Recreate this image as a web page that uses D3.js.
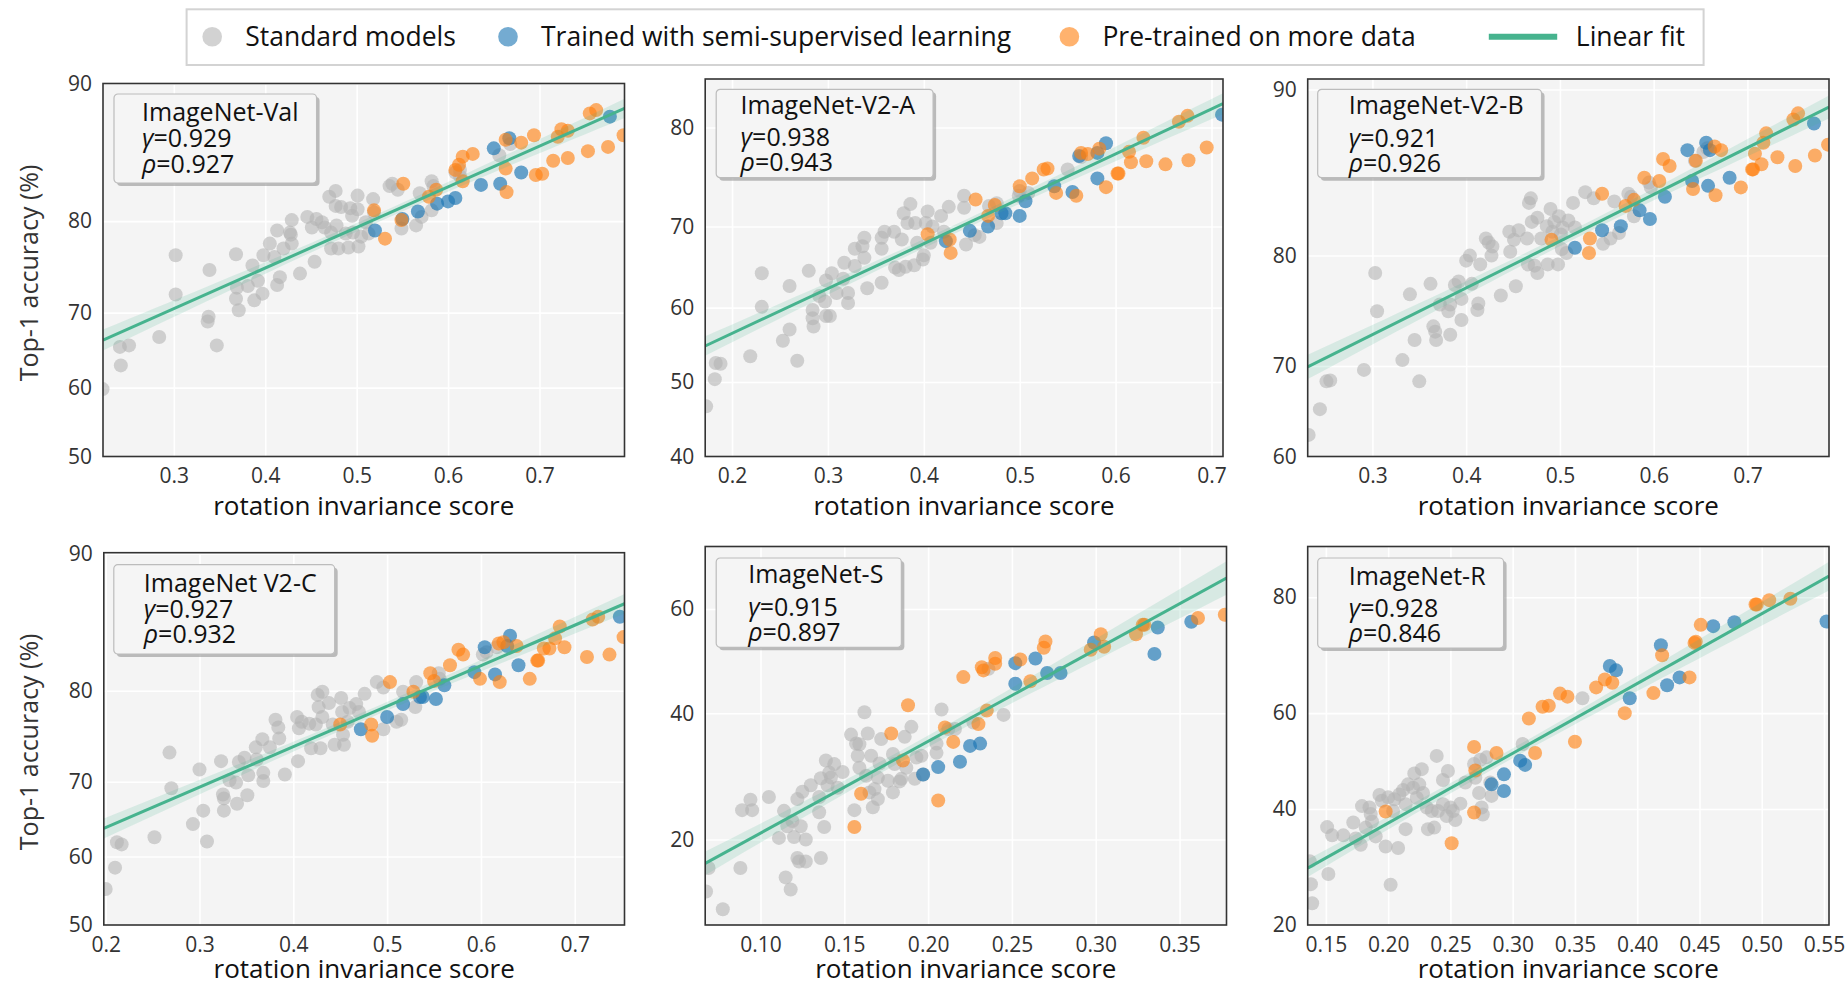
<!DOCTYPE html>
<html>
<head>
<meta charset="utf-8">
<script src="https://cdn.jsdelivr.net/npm/d3@7"></script>
<style>
  body { margin: 0; background: #fff; }
  svg { display: block; font-family: "Open Sans", sans-serif; }
</style>
</head>
<body>
<script>
// ---- data: [rotation invariance score, top-1 accuracy %] ----
const valStd = [[0.222,59.8],[0.241,65.6],[0.251,65.8],[0.242,63.1],[0.284,66.9],[0.302,76.6],[0.302,72.2],[0.339,75.0],[0.338,69.5],[0.337,68.9],[0.347,65.8],[0.368,76.7],[0.369,73.0],[0.368,71.7],[0.371,70.3],[0.381,73.2],[0.388,71.5],[0.386,75.5],[0.392,73.8],[0.397,72.3],[0.398,76.6],[0.405,77.8],[0.410,76.4],[0.413,79.1],[0.416,74.2],[0.413,73.3],[0.420,77.3],[0.427,78.9],[0.429,80.1],[0.429,77.8],[0.428,78.7],[0.438,74.6],[0.446,80.4],[0.454,75.9],[0.451,79.4],[0.456,80.2],[0.462,79.9],[0.465,79.4],[0.470,82.2],[0.472,78.9],[0.472,77.3],[0.477,82.7],[0.477,81.4],[0.478,79.6],[0.480,77.3],[0.483,81.3],[0.488,78.8],[0.491,77.4],[0.493,81.2],[0.495,80.5],[0.496,78.9],[0.501,82.3],[0.501,81.1],[0.502,77.5],[0.505,78.5],[0.510,79.9],[0.513,78.8],[0.518,82.0],[0.519,80.8],[0.536,83.1],[0.539,83.3],[0.545,82.8],[0.549,79.3],[0.565,79.6],[0.569,82.5],[0.571,80.4],[0.582,83.5],[0.584,83.1],[0.582,81.0],[0.608,84.2],[0.613,83.9],[0.613,84.4],[0.656,85.5],[0.668,86.3]];
const valSemi = [[0.520,79.1],[0.550,80.2],[0.567,80.9],[0.588,81.6],[0.600,81.8],[0.608,82.1],[0.636,83.2],[0.657,83.3],[0.680,84.2],[0.650,86.0],[0.667,86.7],[0.777,88.1]];
const valMore = [[0.519,81.0],[0.531,78.3],[0.551,83.3],[0.549,80.1],[0.579,82.2],[0.587,82.8],[0.608,84.4],[0.612,84.8],[0.616,85.4],[0.627,85.6],[0.616,83.5],[0.663,84.5],[0.664,82.6],[0.663,86.6],[0.680,86.4],[0.694,86.9],[0.696,84.0],[0.703,84.1],[0.715,85.1],[0.720,86.8],[0.724,87.3],[0.731,87.2],[0.731,85.3],[0.753,85.8],[0.755,88.3],[0.762,88.5],[0.775,86.1],[0.792,86.9]];
const valFit = [[0.2225,66.5],[0.793,88.6]];

const v2aStd = [[0.173,46.7],[0.182,50.4],[0.183,52.6],[0.188,52.5],[0.219,53.5],[0.231,64.4],[0.231,60.1],[0.253,55.6],[0.260,62.8],[0.260,57.1],[0.268,52.9],[0.280,64.7],[0.284,59.7],[0.284,58.6],[0.285,57.5],[0.291,61.5],[0.297,60.8],[0.298,63.5],[0.298,58.9],[0.302,58.9],[0.304,64.4],[0.309,61.9],[0.316,63.7],[0.317,65.7],[0.321,61.9],[0.321,60.6],[0.328,65.3],[0.328,67.4],[0.336,67.7],[0.338,68.7],[0.338,66.3],[0.341,62.5],[0.356,63.2],[0.356,68.7],[0.356,67.4],[0.359,69.4],[0.369,69.4],[0.370,65.1],[0.374,64.8],[0.377,68.5],[0.379,71.5],[0.381,65.2],[0.383,70.4],[0.386,72.5],[0.390,65.4],[0.391,70.4],[0.393,68.1],[0.399,66.1],[0.400,66.6],[0.402,70.4],[0.404,71.7],[0.407,68.1],[0.409,70.0],[0.418,71.2],[0.421,69.4],[0.426,72.2],[0.442,73.4],[0.442,72.1],[0.444,67.9],[0.453,69.0],[0.458,68.8],[0.468,72.3],[0.476,70.4],[0.476,72.6],[0.500,73.9],[0.499,73.4],[0.509,73.7],[0.550,76.1],[0.564,77.3]];
const v2aSemi = [[0.423,68.3],[0.448,69.5],[0.467,70.0],[0.481,71.5],[0.485,71.5],[0.500,71.2],[0.506,72.8],[0.536,74.4],[0.555,73.8],[0.581,75.2],[0.562,77.4],[0.581,77.7],[0.590,78.6],[0.711,81.1]];
const v2aMore = [[0.454,73.0],[0.427,68.5],[0.428,66.9],[0.467,71.2],[0.474,72.4],[0.500,74.4],[0.513,75.2],[0.525,76.1],[0.529,76.2],[0.538,73.7],[0.559,73.4],[0.564,77.7],[0.571,77.6],[0.583,78.1],[0.590,74.3],[0.602,75.7],[0.603,75.7],[0.614,77.8],[0.616,76.8],[0.629,79.1],[0.632,76.9],[0.652,76.6],[0.666,80.5],[0.675,81.0],[0.676,77.0],[0.695,78.2],[0.404,69.1]];
const v2aFit = [[0.172,54.9],[0.712,82.0]];

const v2bStd = [[0.232,62.5],[0.244,65.4],[0.251,68.4],[0.255,68.5],[0.291,69.6],[0.303,78.6],[0.305,75.3],[0.332,70.6],[0.340,76.8],[0.345,72.6],[0.350,68.4],[0.362,77.7],[0.365,73.9],[0.367,73.4],[0.368,72.6],[0.372,75.9],[0.381,75.3],[0.383,73.1],[0.383,75.9],[0.388,77.6],[0.392,77.9],[0.395,74.5],[0.395,76.4],[0.400,79.6],[0.404,80.0],[0.406,77.7],[0.412,75.4],[0.413,76.0],[0.415,79.3],[0.421,81.3],[0.424,81.0],[0.427,80.0],[0.428,80.7],[0.437,76.7],[0.446,81.8],[0.447,80.3],[0.451,81.2],[0.453,77.5],[0.456,81.9],[0.465,81.3],[0.466,79.3],[0.467,83.8],[0.469,84.1],[0.470,82.5],[0.473,79.2],[0.476,78.6],[0.476,82.8],[0.480,81.3],[0.486,82.2],[0.487,79.3],[0.490,83.4],[0.492,81.8],[0.494,82.5],[0.498,79.3],[0.499,82.9],[0.501,81.6],[0.502,80.5],[0.503,82.1],[0.507,80.2],[0.509,82.6],[0.514,83.8],[0.516,82.1],[0.527,84.5],[0.536,84.1],[0.546,80.9],[0.554,81.3],[0.558,83.9],[0.563,81.7],[0.573,84.4],[0.576,84.2],[0.579,82.9],[0.595,85.1],[0.597,84.8],[0.644,86.4],[0.653,86.9],[0.657,87.1]];
const v2bSemi = [[0.516,80.6],[0.545,81.9],[0.565,82.2],[0.585,83.3],[0.596,82.7],[0.612,84.2],[0.636,87.0],[0.641,85.2],[0.656,87.4],[0.660,87.0],[0.658,84.9],[0.681,85.4],[0.771,88.4]];
const v2bMore = [[0.491,81.2],[0.532,81.3],[0.531,80.2],[0.545,84.4],[0.570,83.6],[0.579,84.0],[0.590,85.4],[0.606,85.2],[0.610,86.5],[0.617,86.1],[0.642,84.7],[0.665,87.2],[0.672,87.0],[0.666,84.3],[0.693,84.8],[0.705,85.9],[0.706,85.9],[0.708,86.8],[0.715,86.2],[0.717,87.4],[0.720,87.9],[0.732,86.6],[0.749,88.6],[0.754,88.9],[0.751,86.1],[0.772,86.7],[0.786,87.3],[0.645,86.4]];
const v2bFit = [[0.231,69.9],[0.787,89.2]];

const v2cStd = [[0.200,55.3],[0.210,58.4],[0.212,62.0],[0.217,61.7],[0.252,62.7],[0.268,73.5],[0.270,69.2],[0.293,64.5],[0.300,71.5],[0.304,66.3],[0.308,62.1],[0.323,72.5],[0.325,68.4],[0.326,67.9],[0.326,66.3],[0.332,70.2],[0.339,69.9],[0.340,67.2],[0.342,72.4],[0.348,72.9],[0.351,68.3],[0.352,70.8],[0.360,74.1],[0.361,72.7],[0.367,75.0],[0.368,71.1],[0.368,70.1],[0.375,74.1],[0.381,77.1],[0.384,76.3],[0.385,75.1],[0.391,70.9],[0.404,77.4],[0.405,72.5],[0.406,76.2],[0.409,76.9],[0.417,76.7],[0.419,74.0],[0.424,76.6],[0.426,79.6],[0.427,78.4],[0.431,79.9],[0.429,74.0],[0.431,77.4],[0.438,78.8],[0.442,76.6],[0.444,74.4],[0.451,79.3],[0.452,77.9],[0.453,75.5],[0.454,74.4],[0.458,76.9],[0.460,78.3],[0.467,78.7],[0.470,77.9],[0.476,79.7],[0.489,80.8],[0.496,76.1],[0.496,80.3],[0.510,76.9],[0.515,77.1],[0.517,79.9],[0.530,78.4],[0.531,80.8],[0.555,81.6],[0.556,81.1],[0.602,83.2],[0.606,83.4],[0.617,83.8]];
const v2cSemi = [[0.472,76.1],[0.500,77.4],[0.517,78.7],[0.535,79.4],[0.538,79.4],[0.552,79.2],[0.561,80.5],[0.593,81.7],[0.615,81.5],[0.604,83.8],[0.628,83.9],[0.631,84.7],[0.640,82.3],[0.748,86.1]];
const v2cMore = [[0.450,76.6],[0.483,76.6],[0.484,75.4],[0.503,80.8],[0.528,79.9],[0.546,81.6],[0.550,80.9],[0.567,82.3],[0.576,83.6],[0.581,83.2],[0.599,81.1],[0.620,80.8],[0.619,84.1],[0.624,84.2],[0.638,83.9],[0.652,81.1],[0.660,82.7],[0.661,82.7],[0.667,83.7],[0.673,83.7],[0.679,84.5],[0.684,85.4],[0.689,83.8],[0.713,83.0],[0.719,85.9],[0.725,86.1],[0.737,83.2],[0.752,84.6]];
const v2cFit = [[0.198,63.9],[0.753,87.0]];

const sketchStd = [[0.0675,14.3],[0.069,16.7],[0.0775,12.7],[0.088,16.7],[0.089,23.9],[0.094,25.4],[0.095,23.9],[0.105,25.8],[0.111,20.2],[0.114,23.8],[0.115,15.7],[0.116,21.7],[0.118,14.5],[0.119,22.4],[0.120,20.3],[0.122,17.8],[0.122,25.5],[0.123,17.4],[0.124,21.7],[0.127,20.0],[0.125,26.6],[0.127,17.4],[0.130,27.6],[0.135,25.8],[0.135,23.6],[0.136,17.8],[0.136,28.7],[0.138,21.6],[0.139,31.6],[0.140,27.6],[0.141,29.6],[0.142,28.8],[0.144,31.0],[0.146,27.2],[0.149,29.7],[0.154,36.1],[0.156,23.9],[0.157,34.5],[0.158,32.4],[0.159,34.4],[0.159,30.4],[0.162,40.2],[0.163,29.1],[0.164,36.3],[0.165,26.5],[0.166,32.4],[0.167,24.3],[0.168,27.0],[0.170,28.8],[0.170,25.5],[0.171,31.1],[0.172,35.3],[0.176,28.3],[0.179,26.5],[0.179,32.7],[0.180,31.0],[0.183,28.2],[0.184,28.6],[0.186,35.7],[0.187,30.4],[0.190,37.5],[0.192,28.6],[0.193,32.1],[0.196,32.4],[0.205,34.5],[0.205,32.9],[0.208,40.7],[0.212,37.1],[0.216,37.1],[0.227,38.3],[0.236,48.5],[0.245,39.7],[0.197,29.3]];
const sketchSemi = [[0.197,29.3],[0.206,30.5],[0.219,31.4],[0.225,34.1],[0.231,34.5],[0.252,45.6],[0.252,49.6],[0.264,50.5],[0.271,47.7],[0.279,47.7],[0.299,53.6],[0.335,51.4],[0.337,56.5],[0.357,57.6]];
const sketchMore = [[0.156,21.6],[0.160,26.3],[0.178,36.3],[0.185,31.6],[0.188,41.5],[0.206,25.3],[0.210,37.4],[0.215,34.8],[0.221,46.9],[0.230,38.0],[0.232,48.8],[0.233,48.2],[0.235,40.5],[0.240,50.6],[0.240,49.5],[0.255,50.3],[0.261,46.1],[0.269,52.6],[0.270,53.8],[0.297,52.2],[0.303,55.2],[0.305,52.8],[0.324,55.2],[0.328,57.0],[0.329,57.0],[0.361,58.3],[0.377,58.9]];
const sketchFit = [[0.067,17.2],[0.378,65.6]];

const renditionStd = [[0.137,30.0],[0.138,26.1],[0.139,23.1],[0.151,36.4],[0.152,27.8],[0.155,34.8],[0.164,34.8],[0.172,37.3],[0.174,34.2],[0.178,33.0],[0.179,40.6],[0.182,36.3],[0.185,40.3],[0.186,39.0],[0.187,37.5],[0.190,34.6],[0.193,42.9],[0.195,41.7],[0.198,32.7],[0.200,42.4],[0.202,26.0],[0.204,39.6],[0.205,42.0],[0.208,32.4],[0.209,43.0],[0.212,43.9],[0.214,36.0],[0.214,41.0],[0.216,45.1],[0.220,44.4],[0.221,47.4],[0.223,42.3],[0.225,45.1],[0.227,48.3],[0.228,43.3],[0.231,40.3],[0.232,36.0],[0.235,39.6],[0.239,51.1],[0.237,36.3],[0.240,39.6],[0.244,46.0],[0.244,41.0],[0.247,38.6],[0.248,47.9],[0.250,40.3],[0.252,39.6],[0.254,37.8],[0.258,41.1],[0.262,45.5],[0.269,49.4],[0.270,46.5],[0.273,43.3],[0.274,50.3],[0.275,40.3],[0.276,38.9],[0.279,50.8],[0.282,45.5],[0.283,42.7],[0.308,53.6],[0.356,63.0]];
const renditionSemi = [[0.283,45.1],[0.293,47.2],[0.293,43.7],[0.306,50.1],[0.310,49.2],[0.378,69.1],[0.383,68.3],[0.394,63.0],[0.424,65.5],[0.434,67.0],[0.419,72.7],[0.461,75.8],[0.478,76.4],[0.552,76.5]];
const renditionMore = [[0.198,39.5],[0.251,33.3],[0.269,53.0],[0.270,48.0],[0.269,39.3],[0.287,51.7],[0.313,58.9],[0.318,51.7],[0.324,61.3],[0.329,61.5],[0.338,63.9],[0.344,63.3],[0.350,54.1],[0.367,65.1],[0.374,66.6],[0.380,66.0],[0.390,60.0],[0.413,64.0],[0.420,71.0],[0.442,67.0],[0.446,73.1],[0.447,73.3],[0.451,76.0],[0.495,79.0],[0.496,79.0],[0.506,79.6],[0.523,79.8]];
const renditionFit = [[0.1354,28.8],[0.554,82.7]];

const datasetNames = ["ImageNet-Val", "ImageNet-V2-A", "ImageNet-V2-B", "ImageNet V2-C", "ImageNet-S", "ImageNet-R"];
const gammas = ["0.929", "0.938", "0.921", "0.927", "0.915", "0.928"];
const rhos = ["0.927", "0.943", "0.926", "0.932", "0.897", "0.846"];
const xDomains = [[0.2225,0.793],[0.172,0.712],[0.231,0.787],[0.198,0.753],[0.067,0.378],[0.1354,0.554]];
const yDomains = [[50,90],[40,83.9],[60,90.45],[50,90.05],[11.4,70.9],[20,86.0]];
const xTickVals = [[0.3,0.4,0.5,0.6,0.7],[0.2,0.3,0.4,0.5,0.6,0.7],[0.3,0.4,0.5,0.6,0.7],[0.2,0.3,0.4,0.5,0.6,0.7],[0.10,0.15,0.20,0.25,0.30,0.35],[0.15,0.20,0.25,0.30,0.35,0.40,0.45,0.50,0.55]];
const yTickVals = [[50,60,70,80,90],[40,50,60,70,80],[60,70,80,90],[50,60,70,80,90],[20,40,60],[20,40,60,80]];
const xTickFormats = [".1f", ".1f", ".1f", ".1f", ".2f", ".2f"];
const legendLabels = ["Standard models", "Trained with semi-supervised learning", "Pre-trained on more data", "Linear fit"];

// ---- styling / layout ----
const W = 1847, H = 986;
const cGray = "#b4b4b4", cBlue = "#1f77b4", cOrange = "#ff7f0e", cFit = "#46b38e";
const frames = [
  {left: 103, right: 624.5, top: 83.5, bottom: 456.5, label: 58},
  {left: 705.2, right: 1223, top: 79, bottom: 456.5, label: 58},
  {left: 1307.7, right: 1829, top: 79, bottom: 456.5, label: 58},
  {left: 103.8, right: 624.5, top: 552.7, bottom: 925, label: 53},
  {left: 705.2, right: 1226.5, top: 546.5, bottom: 925, label: 53},
  {left: 1307.7, right: 1829, top: 546.5, bottom: 925, label: 53}
];
// annotation boxes: offsets from the panel's top-left corner, text baselines from the box top
const notes = [
  {dx: 11, dy: 10.5, tx: 39, lines: [27, 53, 78.5], h: 89},
  {dx: 11, dy: 10.3, tx: 35.4, lines: [24.5, 57, 82], h: 88.4},
  {dx: 10, dy: 10.3, tx: 41, lines: [24.5, 57.5, 82.5], h: 88.4},
  {dx: 10, dy: 12, tx: 40, lines: [27, 53, 78], h: 89.3},
  {dx: 11, dy: 11.5, tx: 43, lines: [24.5, 57.5, 82.5], h: 89.3},
  {dx: 10, dy: 11.5, tx: 41, lines: [27, 59, 84], h: 90}
];

const panels = [
  {std: valStd, semi: valSemi, more: valMore, fit: valFit},
  {std: v2aStd, semi: v2aSemi, more: v2aMore, fit: v2aFit},
  {std: v2bStd, semi: v2bSemi, more: v2bMore, fit: v2bFit},
  {std: v2cStd, semi: v2cSemi, more: v2cMore, fit: v2cFit},
  {std: sketchStd, semi: sketchSemi, more: sketchMore, fit: sketchFit},
  {std: renditionStd, semi: renditionSemi, more: renditionMore, fit: renditionFit}
];

const logit = p => Math.log(p / (100 - p));
const sigm = v => 100 / (1 + Math.exp(-v));

const svg = d3.select("body").append("svg")
  .attr("width", W)
  .attr("height", H);

panels.forEach((p, i) => {
  const f = frames[i];
  const x = d3.scaleLinear().domain(xDomains[i]).range([f.left, f.right]);
  // y axis is logit-scaled accuracy
  const yl = d3.scaleLinear().domain(yDomains[i].map(logit)).range([f.bottom, f.top]);
  const y = v => yl(logit(v));

  const g = svg.append("g");
  g.append("clipPath").attr("id", `clip${i}`)
    .append("rect")
      .attr("x", f.left).attr("y", f.top)
      .attr("width", f.right - f.left).attr("height", f.bottom - f.top);

  g.append("rect")
    .attr("x", f.left).attr("y", f.top)
    .attr("width", f.right - f.left).attr("height", f.bottom - f.top)
    .attr("fill", "#f4f4f4");

  // grid
  g.append("g")
    .attr("transform", `translate(0,${f.bottom})`)
    .call(d3.axisBottom(x).tickValues(xTickVals[i]).tickSize(-(f.bottom - f.top)).tickFormat(""))
    .call(s => {
      s.select(".domain").remove();
      s.selectAll("line").attr("stroke", "#fff").attr("stroke-width", 1.6);
    });
  g.append("g")
    .attr("transform", `translate(${f.left},0)`)
    .call(d3.axisLeft(yl).tickValues(yTickVals[i].map(logit)).tickSize(-(f.right - f.left)).tickFormat(""))
    .call(s => {
      s.select(".domain").remove();
      s.selectAll("line").attr("stroke", "#fff").attr("stroke-width", 1.6);
    });

  // tick labels
  g.append("g")
    .attr("transform", `translate(0,${f.bottom})`)
    .call(d3.axisBottom(x).tickValues(xTickVals[i]).tickSize(0).tickPadding(12).tickFormat(d3.format(xTickFormats[i])))
    .call(s => {
      s.select(".domain").remove();
      s.selectAll("text").attr("font-size", 21).attr("fill", "#333").attr("font-family", '"Open Sans", sans-serif');
    });
  g.append("g")
    .attr("transform", `translate(${f.left},0)`)
    .call(d3.axisLeft(yl).tickValues(yTickVals[i].map(logit)).tickSize(0).tickPadding(11).tickFormat(v => Math.round(sigm(v))))
    .call(s => {
      s.select(".domain").remove();
      s.selectAll("text").attr("font-size", 21).attr("fill", "#333").attr("font-family", '"Open Sans", sans-serif');
    });

  const plot = g.append("g").attr("clip-path", `url(#clip${i})`);

  const dots = (data, color, op) => plot.append("g")
    .selectAll("circle")
    .data(data)
    .enter().append("circle")
      .attr("cx", d => x(d[0]))
      .attr("cy", d => y(d[1]))
      .attr("r", 7)
      .attr("fill", color)
      .attr("fill-opacity", op);

  dots(p.std, cGray, 0.6);
  dots(p.semi, cBlue, 0.68);
  dots(p.more, cOrange, 0.62);

  // confidence band of the fit, from residuals of all points in logit space
  const all = p.std.concat(p.semi, p.more);
  const L0 = logit(p.fit[0][1]), L1 = logit(p.fit[1][1]);
  const slope = (L1 - L0) / (p.fit[1][0] - p.fit[0][0]);
  const fitL = xv => L0 + slope * (xv - p.fit[0][0]);
  const n = all.length;
  const xbar = d3.mean(all, d => d[0]);
  const sxx = d3.sum(all, d => (d[0] - xbar) ** 2);
  const sigma = Math.sqrt(d3.sum(all, d => (logit(d[1]) - fitL(d[0])) ** 2) / (n - 2));
  const half = xv => 2.1 * sigma * Math.sqrt(1 / n + (xv - xbar) ** 2 / sxx);
  const xs = d3.range(41).map(k => p.fit[0][0] + k * (p.fit[1][0] - p.fit[0][0]) / 40);

  plot.append("path")
    .datum(xs)
    .attr("fill", cFit)
    .attr("fill-opacity", 0.16)
    .attr("d", d3.area()
      .x(d => x(d))
      .y0(d => yl(fitL(d) - half(d)))
      .y1(d => yl(fitL(d) + half(d))));

  plot.append("path")
    .datum(p.fit)
    .attr("fill", "none")
    .attr("stroke", cFit)
    .attr("stroke-width", 3)
    .attr("d", d3.line().x(d => x(d[0])).y(d => y(d[1])));

  // frame
  g.append("rect")
    .attr("x", f.left).attr("y", f.top)
    .attr("width", f.right - f.left).attr("height", f.bottom - f.top)
    .attr("fill", "none")
    .attr("stroke", "#333")
    .attr("stroke-width", 1.6);

  // annotation box
  const nb = notes[i];
  const box = g.append("g").attr("transform", `translate(${f.left + nb.dx},${f.top + nb.dy})`);
  const shadow = box.append("rect").attr("x", 3).attr("y", 3).attr("rx", 4).attr("height", nb.h).attr("fill", "#8a8a8a").attr("fill-opacity", 0.55);
  const face = box.append("rect").attr("rx", 4).attr("height", nb.h).attr("fill", "#f5f5f5").attr("stroke", "#bcbcbc").attr("stroke-width", 1.2);
  const tx = nb.tx - nb.dx;
  const t1 = box.append("text").attr("x", tx).attr("y", nb.lines[0]).attr("font-size", 25).attr("fill", "#111").text(datasetNames[i]);
  const t2 = box.append("text").attr("x", tx).attr("y", nb.lines[1]).attr("font-size", 25).attr("fill", "#111");
  t2.append("tspan").attr("font-style", "italic").text("\u03b3");
  t2.append("tspan").text("=" + gammas[i]);
  const t3 = box.append("text").attr("x", tx).attr("y", nb.lines[2]).attr("font-size", 25).attr("fill", "#111");
  t3.append("tspan").attr("font-style", "italic").text("\u03c1");
  t3.append("tspan").text("=" + rhos[i]);
  const tw = d3.max([t1, t2, t3], t => t.node().getComputedTextLength());
  shadow.attr("width", tx + tw + 18);
  face.attr("width", tx + tw + 18);

  // axis labels
  g.append("text")
    .attr("x", (f.left + f.right) / 2)
    .attr("y", f.bottom + f.label)
    .attr("text-anchor", "middle")
    .attr("font-size", 26)
    .attr("fill", "#111")
    .text("rotation invariance score");

  if (i % 3 === 0) {
    g.append("text")
      .attr("transform", `translate(28,${(f.top + f.bottom) / 2 + 3}) rotate(-90)`)
      .attr("text-anchor", "middle")
      .attr("dominant-baseline", "central")
      .attr("font-size", 25)
      .attr("fill", "#333")
      .text("Top-1 accuracy (%)");
  }
});

// ---- top legend ----
const lg = svg.append("g");
lg.append("rect")
  .attr("x", 186.6).attr("y", 9.3)
  .attr("width", 1517).attr("height", 55.7)
  .attr("fill", "#fff")
  .attr("stroke", "#d3d3d3")
  .attr("stroke-width", 2);

const legendTextX = [245.2, 541, 1102.4, 1575.8];
const legendColors = [[cGray, 0.6], [cBlue, 0.62], [cOrange, 0.6]];
legendLabels.forEach((lab, k) => {
  if (k < 3) {
    lg.append("circle")
      .attr("cx", legendTextX[k] - 33).attr("cy", 36.8).attr("r", 9.8)
      .attr("fill", legendColors[k][0]).attr("fill-opacity", legendColors[k][1]);
  } else {
    lg.append("line")
      .attr("x1", legendTextX[k] - 87).attr("x2", legendTextX[k] - 18.6)
      .attr("y1", 36.8).attr("y2", 36.8)
      .attr("stroke", cFit).attr("stroke-width", 6);
  }
  lg.append("text")
    .attr("x", legendTextX[k]).attr("y", 46)
    .attr("font-size", 26.5)
    .attr("fill", "#111")
    .text(lab);
});
</script>
</body>
</html>
